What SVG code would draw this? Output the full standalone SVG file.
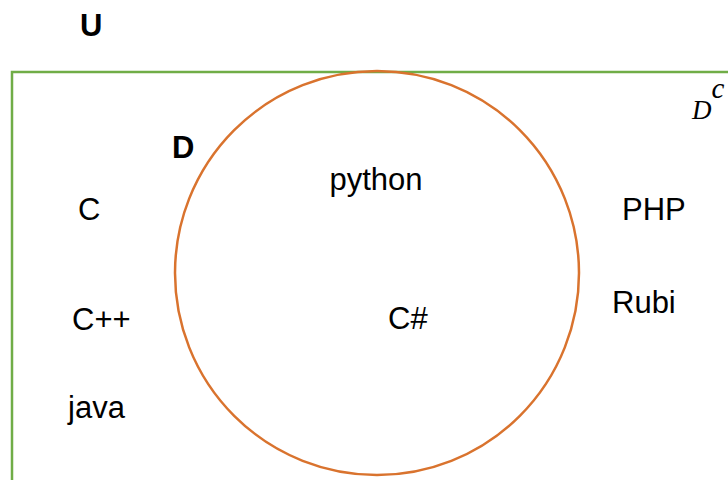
<svg xmlns="http://www.w3.org/2000/svg" width="728" height="480" viewBox="0 0 728 480">
<style>
.lbl{font-family:"Liberation Sans",Arial,sans-serif;font-size:31px;fill:#000}
.bold{font-weight:bold}
.math{font-family:"Liberation Serif","Times New Roman",serif;font-style:italic;fill:#000}
</style>
<rect width="728" height="480" fill="#fff"/>
<g id="universe">
<rect x="12" y="72" width="740" height="440" fill="none" stroke="#70AD47" stroke-width="2.5"/>
<text class="lbl bold" x="80" y="36" font-size="31">U</text>
<text class="math" x="692" y="119" font-size="27">D<tspan font-size="29" dy="-21">c</tspan></text>
</g>
<g id="setD">
<circle cx="377" cy="273" r="202" fill="none" stroke="#D9732E" stroke-width="2.5"/>
<text class="lbl bold" x="172" y="158" font-size="28">D</text>
</g>
<g id="items">
<g id="n-c"><text class="lbl" x="78" y="220">C</text></g>
<g id="n-cpp"><text class="lbl" x="72" y="330">C++</text></g>
<g id="n-java"><text class="lbl" x="68" y="418">java</text></g>
<g id="n-python"><text class="lbl" x="376" y="190" text-anchor="middle">python</text></g>
<g id="n-csharp"><text class="lbl" x="388" y="329">C#</text></g>
<g id="n-php"><text class="lbl" x="622" y="220">PHP</text></g>
<g id="n-rubi"><text class="lbl" x="612" y="313">Rubi</text></g>
</g>
<g id="connectors"></g>
</svg>
